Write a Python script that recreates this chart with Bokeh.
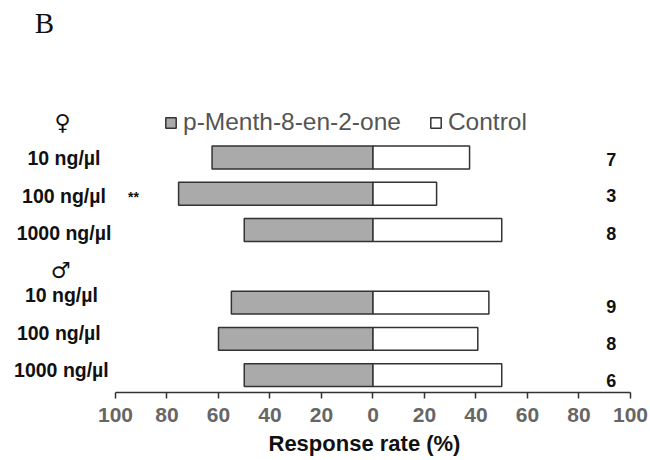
from bokeh.embed import file_html
from bokeh.resources import INLINE
from bokeh.plotting import figure
from bokeh.models import (ColumnDataSource, FixedTicker, Legend, LegendItem, Label, Range1d, Title)
from bokeh.core.properties import value

# ---- data ----
doses = ["10 ng/µl", "100 ng/µl", "1000 ng/µl", "10 ng/µl", "100 ng/µl", "1000 ng/µl"]
treatment = [62.5, 75.5, 50, 55, 60, 50]
control = [37.5, 24.7, 50, 45, 40.7, 50]
n_values = ["7", "3", "8", "9", "8", "6"]
ticks = [-100, -80, -60, -40, -20, 0, 20, 40, 60, 80, 100]
tick_labels = ["100", "80", "60", "40", "20", "0", "20", "40", "60", "80", "100"]

# ---- layout helpers ----
rows = [1, 2, 3, 5, 6, 7]
label_shift = [0, 2, 3, -8, -6, -5]
label_x = [-120, -120, -120, -121, -122, -121]
n_shift = [2, 2, 3, 4, 5, 5]

src = ColumnDataSource(dict(
    y=rows, zero=[0] * 6, treatment=[-v for v in treatment], control=control,
    dose=doses, n=n_values, lshift=label_shift, lx=label_x, nshift=n_shift, nx=[92.5] * 6))

p = figure(width=650, height=460, output_backend="svg", toolbar_location=None,
           x_range=Range1d(-144.66, 107.77), y_range=Range1d(7.48, -3.33),
           y_axis_location=None, x_axis_location="below",
           min_border_left=0, min_border_right=0, min_border_top=0, min_border_bottom=67,
           outline_line_color=None, background_fill_color="white", border_fill_color="white")
p.grid.visible = False

edge = "#333333"
r1 = p.hbar(y="y", left="treatment", right="zero", height=0.63, source=src,
            fill_color="#aaaaaa", line_color=edge, line_width=1.5)
r2 = p.hbar(y="y", left="zero", right="control", height=0.63, source=src,
            fill_color="white", line_color=edge, line_width=1.5)

ax = p.xaxis[0]
ax.bounds = (-100, 100)
ax.ticker = FixedTicker(ticks=ticks)
ax.major_label_overrides = dict(zip(ticks, tick_labels))
ax.major_tick_in = 0
ax.major_tick_out = 6
ax.minor_tick_line_color = None
ax.axis_line_color = edge
ax.axis_line_width = 1.5
ax.major_tick_line_color = edge
ax.major_tick_line_width = 1.5
ax.major_label_text_font = "Liberation Sans"
ax.major_label_text_font_style = "bold"
ax.major_label_text_font_size = "21px"
ax.major_label_text_color = "#666666"
ax.major_label_standoff = 9

p.add_layout(Title(text="Response rate (%)", align="left", offset=268, standoff=9,
                   text_font="Liberation Sans", text_font_style="bold", text_font_size="22px",
                   text_color="#111111"), "below")

p.text(x="lx", y="y", text="dose", y_offset="lshift", source=src,
       text_font=value("Liberation Sans"), text_font_style="bold", text_font_size="19.5px",
       text_color="#111111", text_align="center", text_baseline="middle")
p.text(x="nx", y="y", text="n", y_offset="nshift", source=src,
       text_font=value("Liberation Sans"), text_font_style="bold", text_font_size="18px",
       text_color="#111111", text_align="center", text_baseline="middle")

legend = Legend(items=[LegendItem(label="p-Menth-8-en-2-one", renderers=[r1]),
                       LegendItem(label="Control", renderers=[r2])],
                orientation="horizontal", location=(164, 256),
                border_line_color=None, background_fill_alpha=0,
                padding=0, margin=0, spacing=28, label_standoff=6,
                glyph_width=13, glyph_height=13,
                label_text_font="Liberation Sans", label_text_font_size="24.5px",
                label_text_color="#555555")
p.add_layout(legend, "center")

def note(text, x, target_y, size, font="Liberation Sans", style="bold", color="#111111"):
    p.add_layout(Label(x=x, y=392.5 - target_y, x_units="screen", y_units="screen", text=text,
                       text_font=font, text_font_style=style, text_font_size=size,
                       text_color=color, text_align="center", text_baseline="middle"))

note("B", 44, 23, "29px", font="Liberation Serif", style="normal")
note("**", 133, 197, "14px")
note("♀", 62, 122, "22px", font="DejaVu Sans")
note("♂", 60, 270, "22px", font="DejaVu Sans")

open("out.html", "w").write(file_html(p, INLINE))
